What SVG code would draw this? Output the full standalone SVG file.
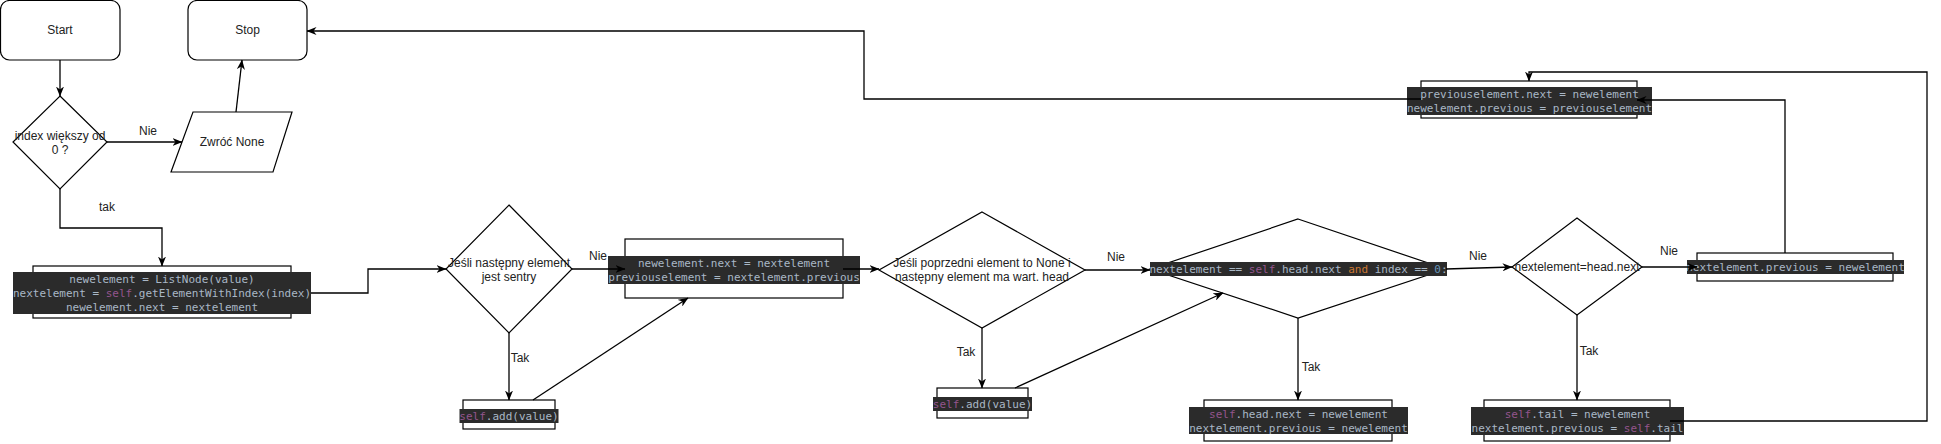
<svg xmlns="http://www.w3.org/2000/svg" width="1941" height="444" viewBox="0 0 1941 444">
<defs>
<style>
.bg{fill:#ffffff}
.sh{fill:#ffffff;stroke:#000000;stroke-width:1.2}
.lbl{font-family:"Liberation Sans",Arial,sans-serif;font-size:12px;fill:#222222;text-anchor:middle}
.code{fill:#2b2b2b}
.ct{font-family:"DejaVu Sans Mono",monospace;font-size:11px;fill:#a9b7c6;text-anchor:middle;white-space:pre}
.kw{fill:#94558d}
.and{fill:#cc7832}
.num{fill:#6897bb}
.edge{fill:none;stroke:#000000;stroke-width:1.3}
.arr{marker-end:url(#ah)}
</style>
<marker id="ah" viewBox="0 0 10 8" refX="9.5" refY="4" markerWidth="10" markerHeight="8" markerUnits="userSpaceOnUse" orient="auto">
<path d="M0,0 L10,4 L0,8 L3,4 Z" fill="#000000"/>
</marker>
</defs>
<rect class="bg" x="0" y="0" width="1941" height="444"/>

<g id="start">
<rect class="sh" x="0.5" y="0.5" width="119.5" height="59.5" rx="9"/>
<text class="lbl" x="60" y="34">Start</text>
</g>
<g id="stop">
<rect class="sh" x="188" y="0.5" width="119" height="59.5" rx="9"/>
<text class="lbl" x="247.5" y="34">Stop</text>
</g>
<g id="cond-index">
<polygon class="sh" points="60,96 107,142 60,189 13,142"/>
<text class="lbl" x="60" y="140">index większy od</text>
<text class="lbl" x="60" y="154">0 ?</text>
</g>
<g id="return-none">
<polygon class="sh" points="193,112 292,112 273,172 171,172"/>
<text class="lbl" x="232" y="146">Zwróć None</text>
</g>
<g id="box-init">
<rect class="sh" x="33" y="266" width="258" height="52"/>
<rect class="code" x="13" y="272" width="298" height="42"/>
<text class="ct" x="162" y="283">newelement = ListNode(value)</text>
<text class="ct" x="162" y="297">nextelement = <tspan class="kw">self</tspan>.getElementWithIndex(index)</text>
<text class="ct" x="162" y="311">newelement.next = nextelement</text>
</g>
<g id="cond-sentry">
<polygon class="sh" points="509,205 572,269 509,333 446,269"/>
<text class="lbl" x="509" y="267">Jeśli następny element</text>
<text class="lbl" x="509" y="281">jest sentry</text>
</g>
<g id="box-add1">
<rect class="sh" x="463" y="400" width="92" height="29"/>
<rect class="code" x="459.5" y="409" width="99" height="14"/>
<text class="ct" x="509" y="420"><tspan class="kw">self</tspan>.add(value)</text>
</g>
<g id="box-link">
<rect class="sh" x="625" y="239" width="218" height="59"/>
<rect class="code" x="608" y="256" width="252" height="28"/>
<text class="ct" x="734" y="267">newelement.next = nextelement</text>
<text class="ct" x="734" y="281">previouselement = nextelement.previous</text>
</g>
<g id="cond-prev">
<polygon class="sh" points="982,212 1085,270 982,328 879,270"/>
<text class="lbl" x="982" y="267">Jeśli poprzedni element to None i</text>
<text class="lbl" x="982" y="281">następny element ma wart. head</text>
</g>
<g id="box-add2">
<rect class="sh" x="937" y="388" width="91" height="30"/>
<rect class="code" x="933" y="397" width="99" height="14"/>
<text class="ct" x="982.5" y="408"><tspan class="kw">self</tspan>.add(value)</text>
</g>
<g id="cond-head">
<polygon class="sh" points="1298,219 1446,269 1298,318 1150,269"/>
<rect class="code" x="1150" y="262" width="297" height="14"/>
<text class="ct" x="1298.5" y="273">nextelement == <tspan class="kw">self</tspan>.head.next <tspan class="and">and</tspan> index == <tspan class="num">0</tspan>:</text>
</g>
<g id="box-head">
<rect class="sh" x="1204" y="400" width="188" height="41"/>
<rect class="code" x="1189" y="407" width="219" height="27"/>
<text class="ct" x="1298.5" y="418"><tspan class="kw">self</tspan>.head.next = newelement</text>
<text class="ct" x="1298.5" y="432">nextelement.previous = newelement</text>
</g>
<g id="cond-next">
<polygon class="sh" points="1577,218 1642,267 1577,315 1512,267"/>
<text class="lbl" x="1577" y="271">nextelement=head.next</text>
</g>
<g id="box-tail">
<rect class="sh" x="1484" y="400" width="186" height="41"/>
<rect class="code" x="1471" y="407" width="213" height="28"/>
<text class="ct" x="1577.5" y="418"><tspan class="kw">self</tspan>.tail = newelement</text>
<text class="ct" x="1577.5" y="432">nextelement.previous = <tspan class="kw">self</tspan>.tail</text>
</g>
<g id="box-prevnext">
<rect class="sh" x="1697" y="253" width="196" height="28"/>
<rect class="code" x="1687" y="260" width="217" height="14"/>
<text class="ct" x="1795.5" y="271">nextelement.previous = newelement</text>
</g>
<g id="box-prevlink">
<rect class="sh" x="1421" y="81" width="216" height="37"/>
<rect class="code" x="1407" y="87" width="245" height="28"/>
<text class="ct" x="1529.5" y="98">previouselement.next = newelement</text>
<text class="ct" x="1529.5" y="112">newelement.previous = previouselement</text>
</g>

<g id="connectors">
<path class="edge arr" d="M60,60 L60,96"/>
<path class="edge arr" d="M107,142 L182,142"/>
<text class="lbl" x="148" y="135">Nie</text>
<path class="edge arr" d="M236,112 L242,60"/>
<path class="edge arr" d="M60,189 L60,228 L162,228 L162,266"/>
<text class="lbl" x="107" y="211">tak</text>
<path class="edge arr" d="M311,293 L368,293 L368,269 L446,269"/>
<path class="edge arr" d="M572,269 L625,269"/>
<text class="lbl" x="598" y="260">Nie</text>
<path class="edge arr" d="M509,333 L509,400"/>
<text class="lbl" x="520" y="362">Tak</text>
<path class="edge arr" d="M533,400 L688,298"/>
<path class="edge arr" d="M843,269 L879,269"/>
<path class="edge arr" d="M1085,270 L1150,270"/>
<text class="lbl" x="1116" y="261">Nie</text>
<path class="edge arr" d="M982,328 L982,388"/>
<text class="lbl" x="966" y="356">Tak</text>
<path class="edge arr" d="M1015,388 L1223,293"/>
<path class="edge arr" d="M1298,318 L1298,400"/>
<text class="lbl" x="1311" y="371">Tak</text>
<path class="edge arr" d="M1446,269 L1512,267"/>
<text class="lbl" x="1478" y="260">Nie</text>
<path class="edge arr" d="M1642,267 L1697,267"/>
<text class="lbl" x="1669" y="255">Nie</text>
<path class="edge arr" d="M1577,315 L1577,400"/>
<text class="lbl" x="1589" y="355">Tak</text>
<path class="edge arr" d="M1785,253 L1785,100 L1637,100"/>
<path class="edge arr" d="M1670,421 L1927,421 L1927,72 L1529,72 L1529,81"/>
<path class="edge arr" d="M1421,99 L864,99 L864,31 L307,31"/>
</g>
</svg>
